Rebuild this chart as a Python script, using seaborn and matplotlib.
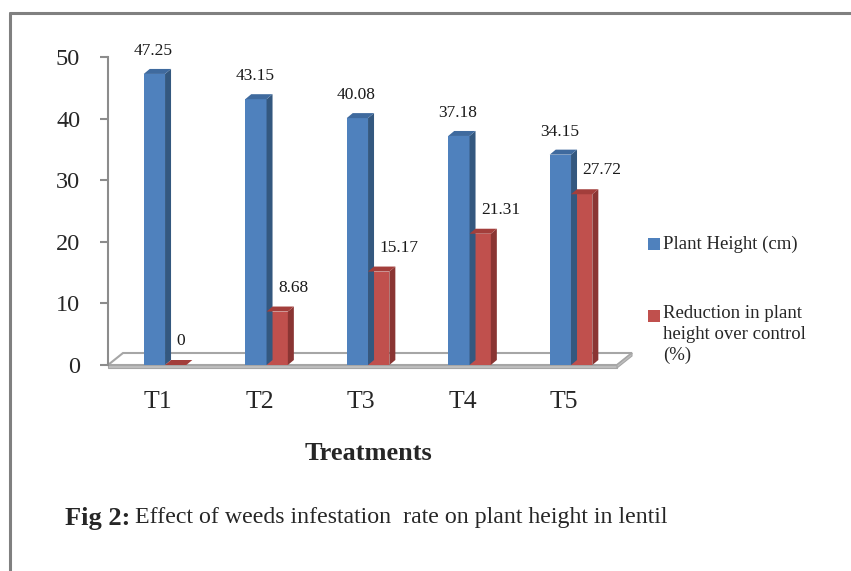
import numpy as np
import pandas as pd
import matplotlib
matplotlib.use('Agg')
import matplotlib.pyplot as plt
import seaborn as sns
from matplotlib.patches import Polygon, Rectangle
from matplotlib.lines import Line2D
from matplotlib.transforms import ScaledTranslation

treatments = ['T1', 'T2', 'T3', 'T4', 'T5']
plant_height = [47.25, 43.15, 40.08, 37.18, 34.15]
reduction = [0, 8.68, 15.17, 21.31, 27.72]
series_names = ['Plant Height (cm)', 'Reduction in plant\nheight over control\n(%)']

df = pd.DataFrame({
    'Treatment': treatments * 2,
    'value': plant_height + reduction,
    'series': [series_names[0]] * 5 + [series_names[1]] * 5,
})

W, H, DPI = 851, 571, 100
front = ['#4F81BD', '#C0504D']
side = ['#34587F', '#8A3533']
top = ['#3F6A9E', '#A33E3B']

sns.set_style('white')
plt.rcParams['font.family'] = ['Liberation Serif', 'DejaVu Serif']

fig = plt.figure(figsize=(W / DPI, H / DPI), dpi=DPI)
# axes box in pixels: x 108..617, y 57..365 (from top)
ax_l, ax_r, ax_t, ax_b = 108, 617, 57, 365
ax = fig.add_axes([ax_l / W, 1 - ax_b / H, (ax_r - ax_l) / W, (ax_b - ax_t) / H])
ax.patch.set_alpha(0)

sns.barplot(data=df, x='Treatment', y='value', hue='series', palette=front,
            width=0.42, saturation=1, legend=False, ax=ax, zorder=3,
            edgecolor='none', linewidth=0)

xmin, xmax = -0.562, 4.453
ax.set_xlim(xmin, xmax)
ax.set_ylim(0, 50)
ux = (xmax - xmin) / (ax_r - ax_l)   # data units per pixel
uy = 50 / (ax_b - ax_t)

# pseudo 3D faces on each bar
dx, dy = 6 * ux, 5 * uy
n = len(treatments)
for i, p in enumerate(ax.patches):
    s = i // n
    x0, w, h = p.get_x(), p.get_width(), p.get_height()
    x1 = x0 + w
    ax.add_patch(Polygon([(x1, 0), (x1, h), (x1 + dx, h + dy), (x1 + dx, dy)],
                         closed=True, fc=side[s], ec='none', zorder=3))
    ax.add_patch(Polygon([(x0, h), (x1, h), (x1 + dx, h + dy), (x0 + dx, h + dy)],
                         closed=True, fc=top[s], ec='none', zorder=3))

# value labels
for i, p in enumerate(ax.patches[:2 * n]):
    s = i // n
    cx = p.get_x() + p.get_width() / 2
    h = p.get_height()
    if s == 0:
        ax.annotate(f'{h:g}', (cx, h), xytext=(-1, 23), textcoords='offset pixels',
                    ha='center', va='center', fontsize=12.5, color='#1a1a1a')
    else:
        ax.annotate(f'{h:g}', (cx, h), xytext=(1, 24), textcoords='offset pixels',
                    ha='left', va='center', fontsize=12.5, color='#1a1a1a')

# floor
fdx, fdy = 15 * ux, 12 * uy
ax.add_patch(Polygon([(xmin, 0), (xmax, 0), (xmax + fdx, fdy), (xmin + fdx, fdy)],
                     closed=True, fc='white', ec='#A6A6A6', lw=1.5, zorder=1, clip_on=False))
ax.add_patch(Polygon([(xmin, 0), (xmax, 0), (xmax, -3 * uy), (xmin, -3 * uy)],
                     closed=True, fc='#BFBFBF', ec='#A6A6A6', lw=0.8, zorder=1, clip_on=False))
ax.add_patch(Polygon([(xmax, 0), (xmax + fdx, fdy), (xmax + fdx, fdy - 3 * uy), (xmax, -3 * uy)],
                     closed=True, fc='#BFBFBF', ec='#A6A6A6', lw=0.8, zorder=1, clip_on=False))

for sp in ['top', 'right', 'bottom']:
    ax.spines[sp].set_visible(False)
ax.spines['left'].set_color('#8C8C8C')
ax.spines['left'].set_linewidth(1.5)
ax.set_yticks([0, 10, 20, 30, 40, 50])
ax.tick_params(axis='y', length=6, width=1.5, color='#8C8C8C', direction='out',
               pad=14, labelsize=17.5, left=True)
ax.tick_params(axis='x', length=0, pad=19, labelsize=18.5)
for lab in ax.get_xticklabels():
    lab.set_transform(lab.get_transform() + ScaledTranslation(-7 / DPI, 0, fig.dpi_scale_trans))
ax.set_xlabel('')
ax.set_ylabel('')

# axis title and caption
fig.text(368 / W, 1 - 453 / H, 'Treatments', ha='center', va='center',
         fontsize=19, fontweight='bold')
fig.text(65 / W, 1 - 518 / H, 'Fig 2:', ha='left', va='center', fontsize=19, fontweight='bold')
fig.text(135 / W, 1 - 518 / H, 'Effect of weeds infestation  rate on plant height in lentil',
         ha='left', va='center', fontsize=17.2)

# legend drawn by hand
for s, yc in enumerate([244, 316]):
    fig.patches.append(Rectangle((648 / W, 1 - (yc + 6) / H), 12 / W, 12 / H,
                                 fc=front[s], ec='none', transform=fig.transFigure))
fig.text(663 / W, 1 - 244 / H, series_names[0], ha='left', va='center', fontsize=13.5)
fig.text(663 / W, 1 - 305 / H, series_names[1], ha='left', va='top', fontsize=13.5,
         linespacing=1.3)

# border of the chart area
fig.add_artist(Line2D([10 / W, 1], [1 - 13 / H, 1 - 13 / H], color='#808080', lw=2.2))
fig.add_artist(Line2D([10 / W, 10 / W], [0, 1 - 13 / H], color='#808080', lw=2.2))

fig.savefig('out.png', dpi=DPI, facecolor='white')
